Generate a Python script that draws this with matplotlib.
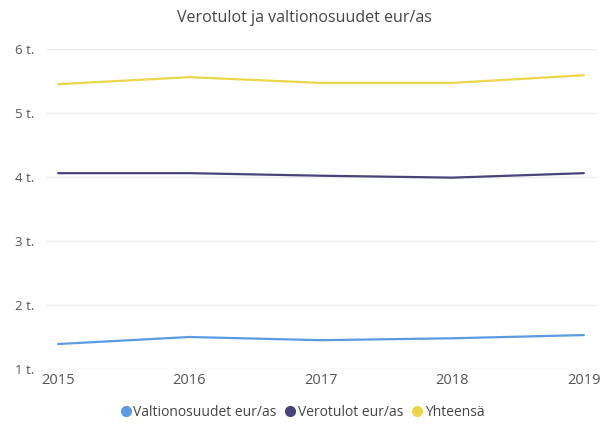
import matplotlib.pyplot as plt
from matplotlib.lines import Line2D

years = [2015, 2016, 2017, 2018, 2019]
valtionosuudet = [1390, 1500, 1450, 1480, 1530]
verotulot = [4060, 4060, 4020, 3990, 4060]
yhteensa = [5450, 5560, 5470, 5470, 5590]

series = [
    ("Valtionosuudet eur/as", valtionosuudet, "#5b9be3"),
    ("Verotulot eur/as", verotulot, "#45457a"),
    ("Yhteensä", yhteensa, "#ecd64b"),
]

plt.rcParams["font.family"] = ["Open Sans", "DejaVu Sans"]

fig = plt.figure(figsize=(6.13, 4.28), dpi=100)
ax = fig.add_axes([47 / 613, 1 - 369 / 428, 550 / 613, 320 / 428])

for name, vals, color in series:
    ax.plot(years, vals, color=color, linewidth=1.6, solid_capstyle="round")

ax.set_ylim(1000, 6000)
ax.set_xlim(2014.916, 2019.1)
ax.set_yticks([1000, 2000, 3000, 4000, 5000, 6000])
ax.set_yticklabels(["1 t.", "2 t.", "3 t.", "4 t.", "5 t.", "6 t."])
ax.set_xticks(years)
ax.set_xticklabels([str(y) for y in years])
ax.grid(True, axis="y", color="#eeeeee", linewidth=1)
ax.set_axisbelow(True)
for s in ax.spines.values():
    s.set_visible(False)
ax.tick_params(axis="both", length=0, colors="#555555", labelsize=9.5)
ax.tick_params(axis="y", pad=9)
ax.tick_params(axis="x", pad=3, labelsize=10.5)

fig.text(0.497, 1 - 18 / 428, "Verotulot ja valtionosuudet eur/as",
         ha="center", va="center", fontsize=11.5, color="#444444")

handles = [Line2D([], [], marker="o", linestyle="none", markersize=7,
                  markerfacecolor=c, markeredgecolor=c) for _, _, c in series]
fig.legend(handles, [n for n, _, _ in series], loc="center",
           bbox_to_anchor=(0.492, 1 - 412 / 428), ncol=3, frameon=False,
           handletextpad=0.05, columnspacing=0.5, fontsize=10,
           labelcolor="#444444", handlelength=1.0)

fig.savefig("out.png", dpi=100)
